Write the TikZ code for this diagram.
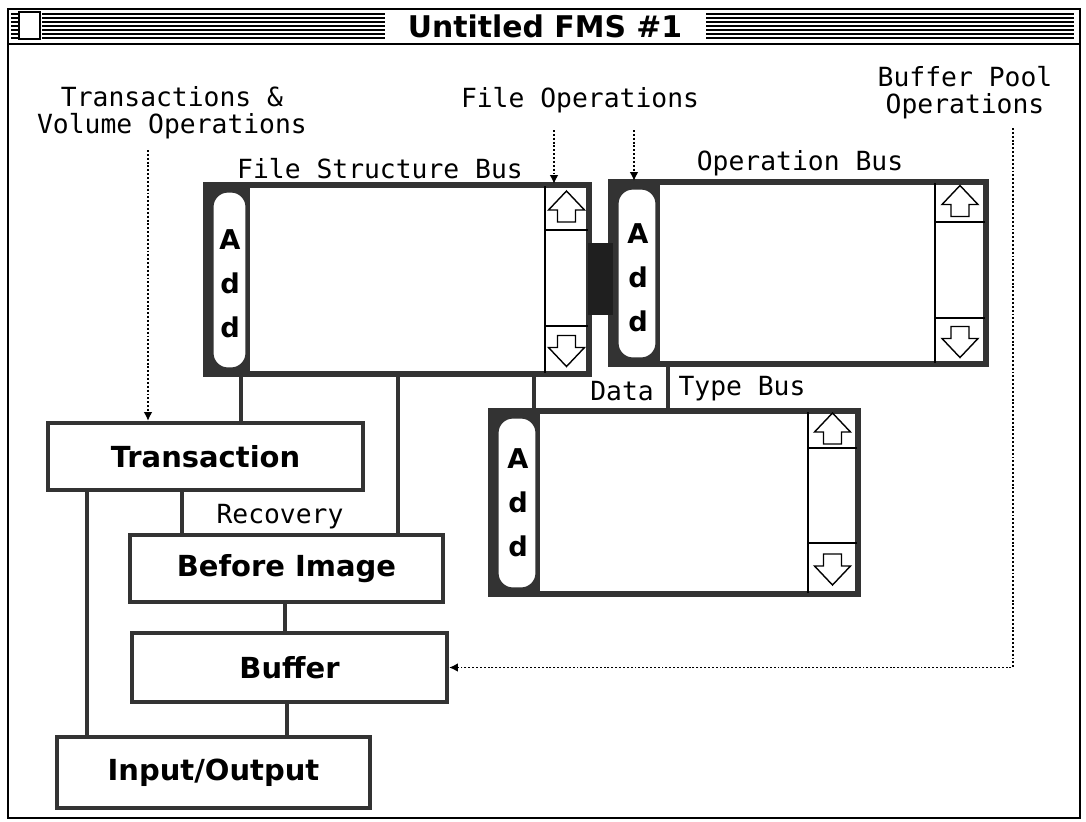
\documentclass[tikz,border=0pt]{standalone}
\usepackage{fontspec}
\usetikzlibrary{arrows.meta}
\newfontfamily\labfont{DejaVu Sans Mono}
\newfontfamily\boxfont{DejaVu Sans}
\definecolor{ink}{gray}{0.2}
\tikzset{
  busframe/.style={draw=ink, line width=2.4pt, fill=white, inner sep=0pt},
  blk/.style={draw=ink, line width=2.4pt, fill=white, inner sep=0pt,
    font=\boxfont\bfseries\fontsize{16.5}{18}\selectfont},
  lbl/.style={font=\labfont\fontsize{15}{15.4}\selectfont, inner sep=0pt, align=center},
  addlbl/.style={font=\boxfont\bfseries\fontsize{15.5}{25}\selectfont, inner sep=0pt, align=center},
  conn/.style={draw=ink, line width=2.4pt},
  dots/.style={draw=black, line width=1.1pt, dash pattern=on 1.1pt off 1.1pt,
    -{Latex[length=5pt,width=5pt]}},
  uparr/.pic={\draw[black, line width=0.8pt, line join=miter] (0,-17) -- (18,2) -- (9,2) -- (9,14) -- (-9,14) -- (-9,2) -- (-18,2) -- cycle;},
  dnarr/.pic={\draw[black, line width=0.8pt, line join=miter] (0,17) -- (18,-2) -- (9,-2) -- (9,-14) -- (-9,-14) -- (-9,-2) -- (-18,-2) -- cycle;}
}
% name, left, top, right, bottom, pillright, scrollleft, upbottom, downtop
\newcommand\buswin[9]{%
  \node[busframe, minimum width={(#4-#2)*0.02cm}, minimum height={(#5-#3)*0.02cm}] (#1) at ({(#2+#4)/2},{(#3+#5)/2}) {};
  \fill[ink] (#2,#3) rectangle (#6,#5);
  \draw[ink, line width=1.8pt, fill=white, rounded corners=9pt] ({#2+5},{#3+5}) rectangle ({#6-3},{#5-4});
  \draw[black, line width=1.1pt] (#7,#3) -- (#7,#5) (#7,#8) -- (#4,#8) (#7,#9) -- (#4,#9);
  \pic at ({(#7+#4)/2},{(#3+#8)/2}) {uparr};
  \pic at ({(#7+#4)/2},{(#9+#5)/2}) {dnarr};
  \draw[ink, line width=2.4pt] (#1.south west) rectangle (#1.north east);
}
\begin{document}
\begin{tikzpicture}[x=0.02cm, y=-0.02cm]
\useasboundingbox (0,0) rectangle (1086,822);

% window
\draw[black, line width=1pt] (8,9) rectangle (1080,818);
\draw[black, line width=1pt] (8,44) -- (1080,44);
\foreach \yy in {14,18,...,38} {
  \draw[black, line width=0.9pt] (42,\yy) -- (385,\yy) (706,\yy) -- (1074,\yy);
  \draw[black, line width=0.9pt] (11,\yy) -- (18,\yy);
}
\draw[black, line width=1pt, fill=white] (19,12) rectangle (40,39);
\node[font=\boxfont\bfseries\fontsize{17}{18}\selectfont, inner sep=0pt] (title) at (545,26) {Untitled FMS \#1};

% labels
\node[lbl] (tvl) at (172,113) {Transactions \&\\Volume Operations};
\node[lbl] (fol) at (580,100) {File Operations};
\node[lbl] (bpl) at (965,93) {Buffer Pool\\Operations};
\node[lbl] (fsbl) at (380,169) {File Structure Bus};
\node[lbl] (opl) at (800,163) {Operation Bus};
\node[lbl] (datal) at (622,391) {Data};
\node[lbl] (typel) at (742,389) {Type Bus};
\node[lbl] (recl) at (280,517) {Recovery};

% bus windows
\buswin{fsb}{207}{186}{588}{373}{250}{545}{230}{326}
\buswin{op}{612}{183}{985}{363}{660}{935}{222}{318}
\buswin{dtb}{492}{412}{857}{593}{540}{808}{448}{543}
\node[addlbl] (fsbadd) at (230,284) {A\\d\\d};
\node[addlbl] (opadd) at (638,278) {A\\d\\d};
\node[addlbl] (dtbadd) at (518,503) {A\\d\\d};

% bridge block between FSB and Operation Bus
\node[fill=black!88, inner sep=0pt, minimum width={25*0.02cm}, minimum height={72*0.02cm}] (bridge) at (600.5,279) {};

% lower boxes
\node[blk, minimum width={315*0.02cm}, minimum height={67*0.02cm}] (trans) at (205.5,456.5) {Transaction};
\node[blk, minimum width={313*0.02cm}, minimum height={67*0.02cm}] (bimg) at (286.5,568.5) {Before Image};
\node[blk, minimum width={315*0.02cm}, minimum height={69*0.02cm}] (buf) at (289.5,667.5) {Buffer};
\node[blk, minimum width={313*0.02cm}, minimum height={71*0.02cm}] (io) at (213.5,772.5) {Input/Output};

% connectors
\coordinate (x241) at (241,0);
\coordinate (x398) at (398,0);
\coordinate (x534) at (534,0);
\coordinate (x668) at (668,0);
\coordinate (x182) at (182,0);
\coordinate (x87) at (87,0);
\coordinate (x285) at (285,0);
\coordinate (x287) at (287,0);
\draw[conn] (x241 |- fsb.south) -- (x241 |- trans.north);
\draw[conn] (x398 |- fsb.south) -- (x398 |- bimg.north);
\draw[conn] (x534 |- fsb.south) -- (x534 |- dtb.north);
\draw[conn] (x668 |- op.south) -- (x668 |- dtb.north);
\draw[conn] (x182 |- trans.south) -- (x182 |- bimg.north);
\draw[conn] (x87 |- trans.south) -- (x87 |- io.north);
\draw[conn] (x285 |- bimg.south) -- (x285 |- buf.north);
\draw[conn] (x287 |- buf.south) -- (x287 |- io.north);

% dotted operation arrows
\coordinate (tv) at (148,150);
\draw[dots] (tv) -- (tv |- trans.north);
\coordinate (fo1) at (554,130);
\draw[dots] (fo1) -- (fo1 |- fsb.north);
\coordinate (fo2) at (634,130);
\draw[dots] (fo2) -- (fo2 |- op.north);
\coordinate (bp) at (1013,128);
\draw[dots] (bp) |- (buf.east);
\end{tikzpicture}
\end{document}
